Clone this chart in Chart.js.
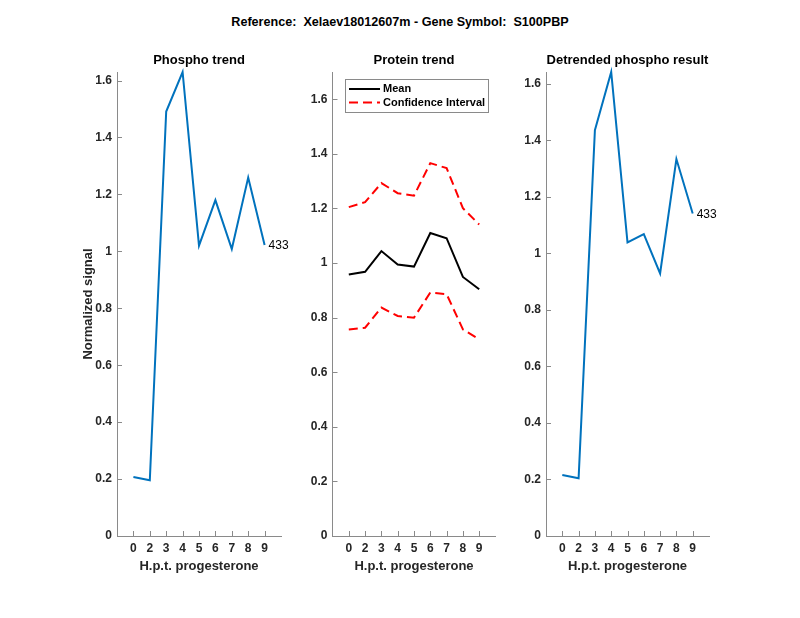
<!DOCTYPE html>
<html>
<head>
<meta charset="utf-8">
<script src="https://cdn.jsdelivr.net/npm/chart.js@4.4.1/dist/chart.umd.min.js"></script>
<style>
  body { margin: 0; background: #fff; }
  #wrap { position: relative; width: 800px; height: 618px; }
  #wrap canvas { position: absolute; left: 0; top: 0; }
  #mainTitle {
    position: absolute; left: 0; top: 15px; width: 800px; text-align: center;
    font: bold 12.6px 'Liberation Sans', Arial, sans-serif; color: #000; white-space: pre;
  }
</style>
</head>
<body>
<div id="wrap">
  <div id="mainTitle">Reference:  Xelaev18012607m - Gene Symbol:  S100PBP</div>
  <canvas id="c1" width="800" height="618"></canvas>
  <canvas id="c2" width="800" height="618"></canvas>
  <canvas id="c3" width="800" height="618"></canvas>
</div>
<script>
// time points (hours post progesterone) shown as category labels
const xLabels = ['0', '2', '3', '4', '5', '6', '7', '8', '9'];

const phosphoTrend = [0.207, 0.196, 1.491, 1.630, 1.020, 1.180, 1.008, 1.259, 1.022];
const proteinMean  = [0.958, 0.968, 1.044, 0.995, 0.987, 1.110, 1.091, 0.949, 0.904];
const proteinUpper = [1.205, 1.223, 1.293, 1.256, 1.247, 1.366, 1.348, 1.201, 1.141];
const proteinLower = [0.757, 0.763, 0.837, 0.806, 0.800, 0.892, 0.886, 0.757, 0.721];
const detrended    = [0.216, 0.204, 1.436, 1.642, 1.039, 1.068, 0.929, 1.334, 1.141];

const peptideId = '433';

const FONT = "'Liberation Sans', Arial, sans-serif";
const TXT = '#262626';
const AXIS = '#8a8a8a';
const BLUE = '#0072BD';

function toPoints(arr) {
  return arr.map((v, i) => ({ x: i + 1, y: v }));
}

// draws MATLAB-like extras: inward ticks, titles, labels, legend
const matlabAxes = {
  id: 'matlabAxes',
  afterDraw(chart, args, opts) {
    const ctx = chart.ctx;
    const area = chart.chartArea;
    const xs = chart.scales.x, ys = chart.scales.y;
    ctx.save();
    ctx.strokeStyle = AXIS;
    ctx.lineWidth = 1;
    ctx.beginPath();
    xs.ticks.forEach(t => {
      if (t.value < 1 || t.value > xLabels.length) return;
      const px = Math.round(xs.getPixelForValue(t.value)) + 0.5;
      ctx.moveTo(px, area.bottom);
      ctx.lineTo(px, area.bottom - 5);
    });
    ys.ticks.forEach(t => {
      const py = Math.round(ys.getPixelForValue(t.value)) + 0.5;
      ctx.moveTo(area.left, py);
      ctx.lineTo(area.left + 5, py);
    });
    ctx.stroke();

    const cx = (area.left + area.right) / 2;
    ctx.fillStyle = '#000';
    ctx.textAlign = 'center';
    ctx.textBaseline = 'middle';
    ctx.font = 'bold 13px ' + FONT;
    ctx.fillText(opts.title, cx, 60);
    ctx.fillStyle = TXT;
    ctx.fillText('H.p.t. progesterone', cx, 566);
    if (opts.yLabel) {
      ctx.save();
      ctx.translate(88, (area.top + area.bottom) / 2);
      ctx.rotate(-Math.PI / 2);
      ctx.fillText(opts.yLabel, 0, 0);
      ctx.restore();
    }
    if (opts.endLabel) {
      const pts = chart.getDatasetMeta(0).data;
      const last = pts[pts.length - 1];
      ctx.fillStyle = '#000';
      ctx.font = '12px ' + FONT;
      ctx.textAlign = 'left';
      ctx.fillText(opts.endLabel, last.x + 4, last.y + 1);
    }
    if (opts.legend) {
      const lx = 345.5, ly = 79.5, lw = 143, lh = 33;
      ctx.fillStyle = '#fff';
      ctx.fillRect(lx, ly, lw, lh);
      ctx.strokeStyle = AXIS;
      ctx.lineWidth = 1;
      ctx.strokeRect(lx, ly, lw, lh);
      const items = chart.data.datasets.filter(d => d.label);
      items.forEach((d, i) => {
        const y = 89 + i * 13.5;
        ctx.strokeStyle = d.borderColor;
        ctx.lineWidth = 2;
        ctx.setLineDash(d.borderDash || []);
        ctx.beginPath();
        ctx.moveTo(349, y);
        ctx.lineTo(380, y);
        ctx.stroke();
        ctx.setLineDash([]);
        ctx.fillStyle = '#000';
        ctx.font = 'bold 11px ' + FONT;
        ctx.textAlign = 'left';
        ctx.fillText(d.label, 383, y);
      });
    }
    ctx.restore();
  }
};

function makeChart(id, datasets, left, right, yMax, extra) {
  const yW = 40, xH = 30;
  return new Chart(document.getElementById(id), {
    type: 'line',
    data: { datasets: datasets },
    options: {
      responsive: false,
      animation: false,
      layout: { padding: { left: left - yW, right: 800 - right, top: 72, bottom: 618 - 536 - xH } },
      elements: { point: { radius: 0 }, line: { tension: 0 } },
      scales: {
        x: {
          type: 'linear', min: 0, max: 10,
          grid: { display: false, drawTicks: false },
          border: { display: true, color: AXIS, width: 1 },
          ticks: {
            stepSize: 1, includeBounds: false, maxRotation: 0, autoSkip: false, padding: 5,
            color: TXT, font: { family: FONT, size: 12, weight: 'bold' },
            callback: v => (v >= 1 && v <= xLabels.length) ? xLabels[v - 1] : ''
          },
          afterFit: s => { s.height = xH; }
        },
        y: {
          min: 0, max: yMax,
          grid: { display: false, drawTicks: false },
          border: { display: true, color: AXIS, width: 1 },
          ticks: {
            stepSize: 0.2, includeBounds: false, padding: 5,
            color: TXT, font: { family: FONT, size: 12, weight: 'bold' },
            callback: v => String(Math.round(v * 10) / 10)
          },
          afterFit: s => { s.width = yW; }
        }
      },
      plugins: {
        legend: { display: false },
        tooltip: { enabled: false },
        matlabAxes: extra
      }
    },
    plugins: [matlabAxes]
  });
}

makeChart('c1', [
  { data: toPoints(phosphoTrend), borderColor: BLUE, borderWidth: 2, clip: false }
], 117, 281, 1.63, { title: 'Phospho trend', yLabel: 'Normalized signal', endLabel: peptideId });

makeChart('c2', [
  { label: 'Mean', data: toPoints(proteinMean), borderColor: '#000', borderWidth: 2, clip: false },
  { label: 'Confidence Interval', data: toPoints(proteinUpper), borderColor: '#ff0000', borderWidth: 2, borderDash: [9, 5], clip: false },
  { data: toPoints(proteinLower), borderColor: '#ff0000', borderWidth: 2, borderDash: [9, 5], clip: false }
], 332.5, 495.5, 1.7, { title: 'Protein trend', legend: true });

makeChart('c3', [
  { data: toPoints(detrended), borderColor: BLUE, borderWidth: 2, clip: false }
], 546, 709, 1.642, { title: 'Detrended phospho result', endLabel: peptideId });
</script>
</body>
</html>
